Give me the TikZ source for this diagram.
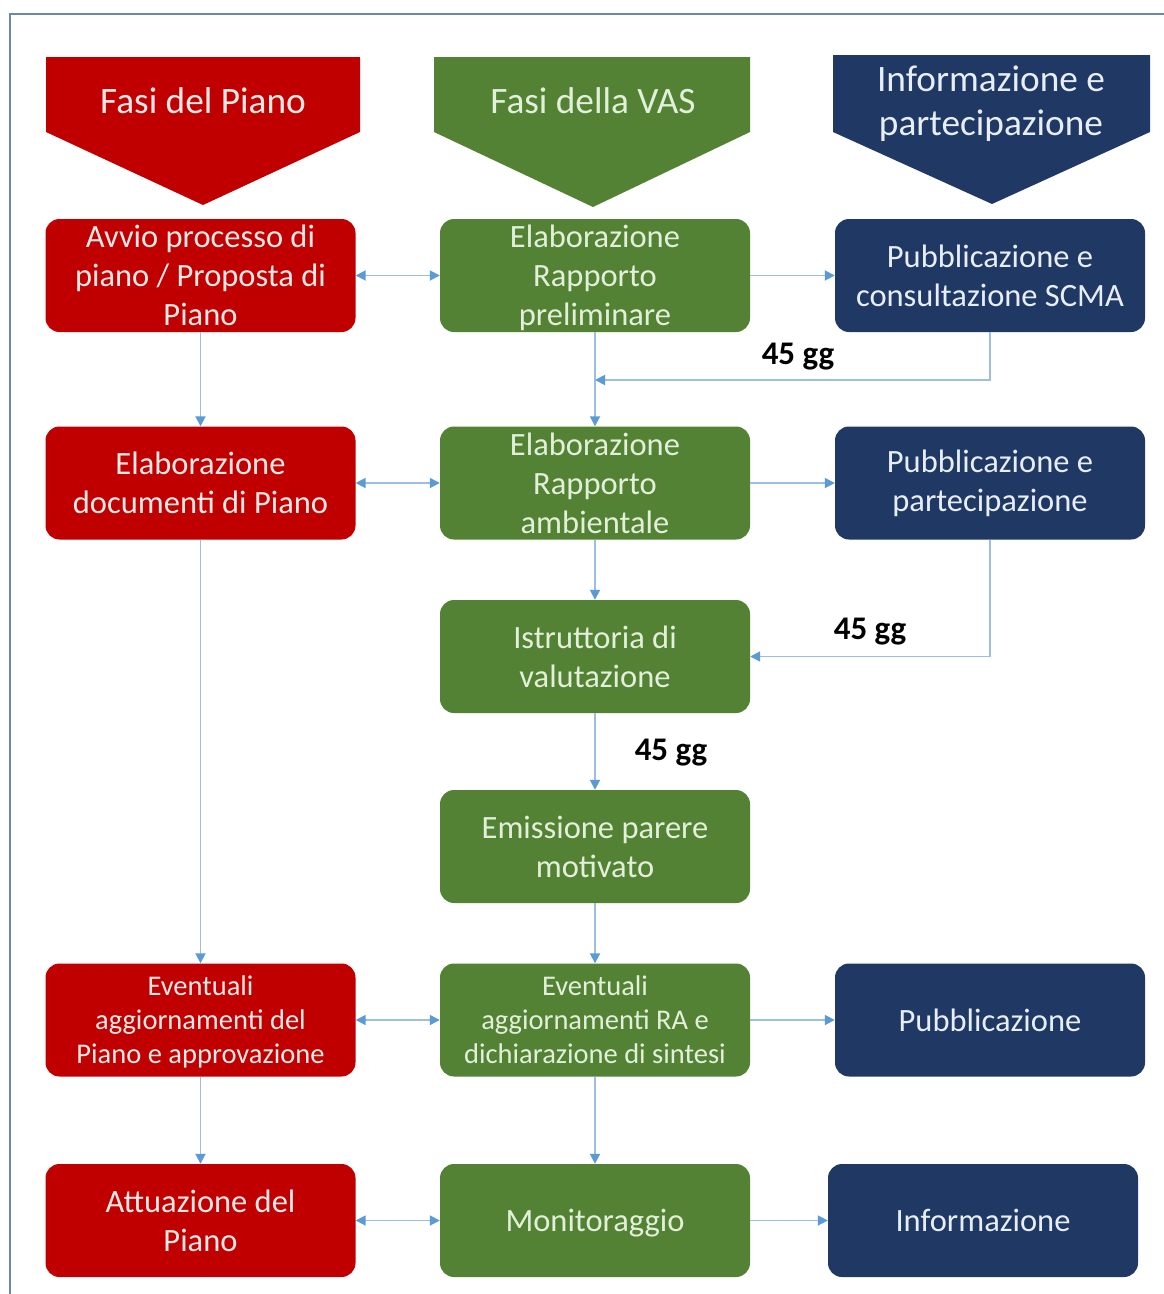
\documentclass[tikz,border=0pt]{standalone}
\usepackage{fontspec}
\setmainfont{Carlito}
\usetikzlibrary{arrows.meta}
\definecolor{cred}{HTML}{C00000}
\definecolor{cgreen}{HTML}{548235}
\definecolor{cnavy}{HTML}{203864}
\definecolor{tred}{HTML}{FBE9E7}
\definecolor{tgreen}{HTML}{E2F0D9}
\definecolor{tnavy}{HTML}{E8EEF8}
\definecolor{cline}{HTML}{9DBDE3}
\definecolor{ctip}{HTML}{5B9BD5}
\definecolor{cframe}{HTML}{6A88AE}
\newcommand{\nd}[1]{\raisebox{0pt}[\height][0pt]{#1}}
\tikzset{
  box/.style={rounded corners=14pt, minimum width=310pt, minimum height=113pt,
    inner sep=1pt, align=center, font=\fontsize{32.5}{39}\selectfont},
  rbox/.style={box, fill=cred, text=tred},
  gbox/.style={box, fill=cgreen, text=tgreen},
  nbox/.style={box, fill=cnavy, text=tnavy},
  small/.style={font=\fontsize{28.5}{34}\selectfont},
  hdr/.style={align=center, font=\fontsize{37.3}{44}\selectfont},
  conn/.style={draw=cline, line width=1.8pt},
  tipR/.style={-{Triangle[length=10pt,width=10pt,color=ctip]}},
  tipLR/.style={{Triangle[length=10pt,width=10pt,color=ctip]}-{Triangle[length=10pt,width=10pt,color=ctip]}},
  gg/.style={font=\fontsize{33}{36}\selectfont\bfseries, text=black}
}
\begin{document}
\begin{tikzpicture}[x=1pt,y=-1pt]
\useasboundingbox (0,0) rectangle (1164,1294);
\fill[white] (0,0) rectangle (1164,1294);
\draw[cframe, line width=1.6pt] (1164,14) -- (10,14) -- (10,1294);
% headers
\fill[cred] (46,57) -- (360,57) -- (360,132) -- (203,205) -- (46,132) -- cycle;
\fill[cgreen] (434,57) -- (750,57) -- (750,132) -- (593,207) -- (434,132) -- cycle;
\fill[cnavy] (833,55) -- (1150,55) -- (1150,132) -- (992,204) -- (833,132) -- cycle;
\node[hdr, text=tred] (h1) at (203,101) {Fasi del Piano};
\node[hdr, text=tgreen] (h2) at (593,101) {Fasi della VAS};
\node[hdr, text=tnavy] (h3) at (991,104) {Informazione e\\partecipazione};
% row 1
\node[rbox] (r1) at (200.5,275.5) {Avvio processo di\\piano / Proposta di\\Piano};
\node[gbox] (g1) at (595,275.5) {Elaborazione\\Rapporto\\\nd{preliminare}};
\node[nbox] (b1) at (990,275.5) {Pubblicazione e\\consultazione SCMA};
% row 2
\node[rbox] (r2) at (200.5,483) {Elaborazione\\documenti di Piano};
\node[gbox] (g2) at (595,483) {Elaborazione\\Rapporto\\ambientale};
\node[nbox] (b2) at (990,483) {Pubblicazione e\\partecipazione};
% row 3, 4
\node[gbox] (g3) at (595,656.5) {Istruttoria di\\valutazione};
\node[gbox] (g4) at (595,846.5) {Emissione parere\\motivato};
% row 5
\node[rbox, small] (r5) at (200.5,1020) {Eventuali\\aggiornamenti del\\\nd{Piano e approvazione}};
\node[gbox, small] (g5) at (595,1020) {Eventuali\\aggiornamenti RA e\\dichiarazione di sintesi};
\node[nbox] (b5) at (990,1020) {Pubblicazione};
% row 6
\node[rbox] (r6) at (200.5,1220.5) {Attuazione del\\Piano};
\node[gbox] (g6) at (595,1220.5) {\nd{Monitoraggio}};
\node[nbox] (b6) at (983,1220.5) {Informazione};
% connectors
\draw[conn, tipLR] (r1.east) -- (g1.west);
\draw[conn, tipR] (g1.east) -- (b1.west);
\draw[conn, tipR] (r1.south) -- (r2.north);
\draw[conn, tipR] (g1.south) -- (g2.north);
\coordinate (j1) at (595,380);
\draw[conn, tipR] (b1.south) |- (j1);
\draw[conn, tipLR] (r2.east) -- (g2.west);
\draw[conn, tipR] (g2.east) -- (b2.west);
\draw[conn, tipR] (g2.south) -- (g3.north);
\draw[conn, tipR] (b2.south) |- (g3.east);
\draw[conn, tipR] (g3.south) -- (g4.north);
\draw[conn, tipR] (r2.south) -- (r5.north);
\draw[conn, tipR] (g4.south) -- (g5.north);
\draw[conn, tipLR] (r5.east) -- (g5.west);
\draw[conn, tipR] (g5.east) -- (b5.west);
\draw[conn, tipR] (r5.south) -- (r6.north);
\draw[conn, tipR] (g5.south) -- (g6.north);
\draw[conn, tipLR] (r6.east) -- (g6.west);
\draw[conn, tipR] (g6.east) -- (b6.west);
% labels
\node[gg] (l1) at (798,357) {45 gg};
\node[gg] (l2) at (870,632) {45 gg};
\node[gg] (l3) at (671,753) {45 gg};
\end{tikzpicture}
\end{document}
